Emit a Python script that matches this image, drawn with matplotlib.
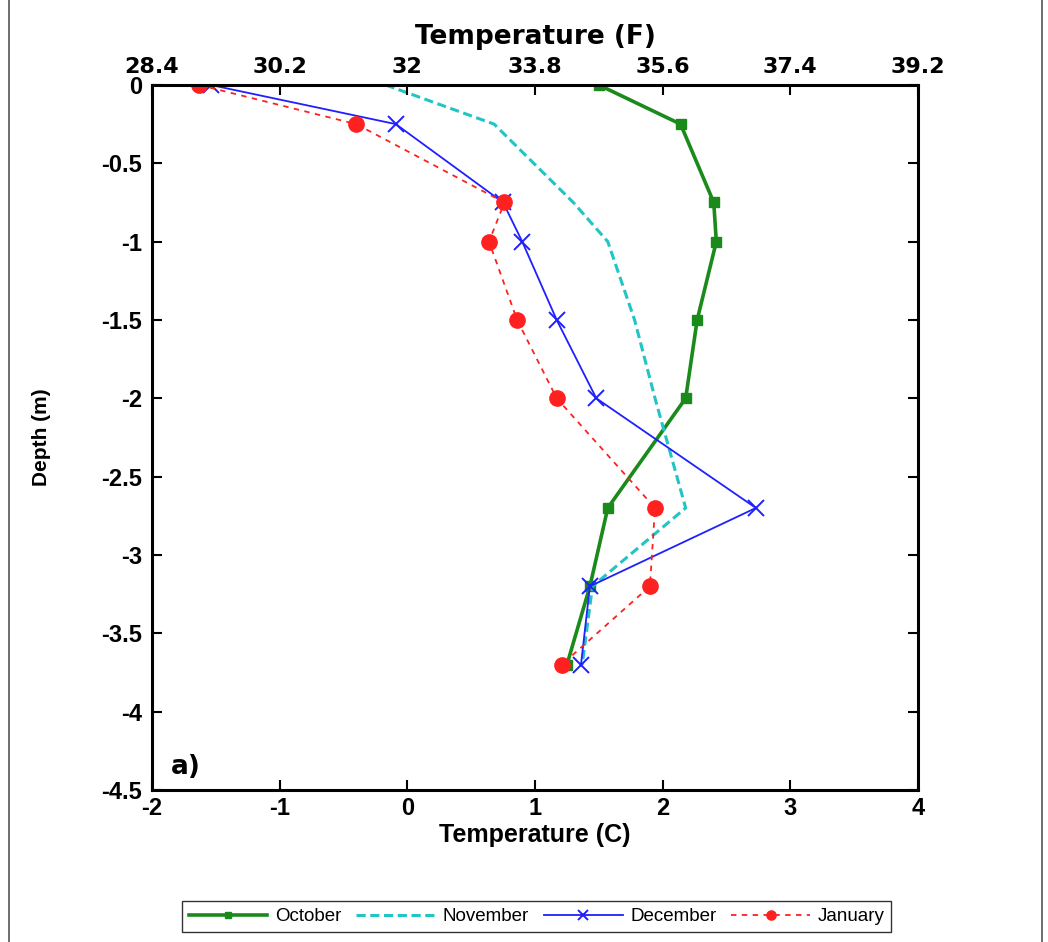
import numpy as np
import matplotlib
matplotlib.use('Agg')
import matplotlib.pyplot as plt
from matplotlib.patches import Rectangle

plt.rcParams['font.family'] = ['Liberation Sans', 'DejaVu Sans']

depth = [0, -0.25, -0.75, -1.0, -1.5, -2.0, -2.7, -3.2, -3.7]
october = [1.50, 2.14, 2.40, 2.42, 2.27, 2.18, 1.57, 1.43, 1.25]
november = [-0.17, 0.68, 1.30, 1.57, 1.78, 1.94, 2.18, 1.45, 1.37]
december = [-1.54, -0.09, 0.75, 0.90, 1.17, 1.48, 2.73, 1.43, 1.36]
january = [-1.63, -0.40, 0.76, 0.64, 0.86, 1.17, 1.94, 1.90, 1.21]

xticks_c = [-2, -1, 0, 1, 2, 3, 4]
xticks_f = ['28.4', '30.2', '32', '33.8', '35.6', '37.4', '39.2']
yticks = [0, -0.5, -1, -1.5, -2, -2.5, -3, -3.5, -4, -4.5]

fig = plt.figure(figsize=(10.48, 9.42), dpi=100)
ax = fig.add_axes([0.145, 0.1614, 0.731, 0.7484])

ax.plot(october, depth, color='#1a8a1a', lw=2.6, marker='s', ms=7, label='October')
ax.plot(november, depth, color='#22c4c4', lw=2.2, ls=(0, (3, 1.5)), label='November')
ax.plot(december, depth, color='#1f1fff', lw=1.3, marker='x', ms=11, mew=1.4, label='December')
ax.plot(january, depth, color='#ff2020', lw=1.3, ls=(0, (3, 3)), marker='o', ms=11, label='January')

ax.set_xlim(-2, 4)
ax.set_ylim(-4.5, 0)
ax.set_xticks(xticks_c)
ax.set_xticklabels([str(t) for t in xticks_c], fontweight='bold')
ax.set_yticks(yticks)
ax.set_yticklabels([('%g' % t) for t in yticks], fontweight='bold')
ax.tick_params(direction='in', length=7, width=1.5, labelsize=17, right=True)
ax.tick_params(axis='y', pad=7)
ax.tick_params(axis='x', pad=5)
for s in ax.spines.values():
    s.set_linewidth(2.2)

ax.set_xlabel('Temperature (C)', fontsize=18, fontweight='bold', labelpad=2)
ax.set_ylabel('Depth (m)', fontsize=15, fontweight='bold')
ax.yaxis.set_label_coords(-0.132, 0.5)

ax2 = ax.twiny()
ax2.set_xlim(-2, 4)
ax2.set_xticks(xticks_c)
ax2.set_xticklabels(xticks_f, fontfamily='DejaVu Sans', fontweight='bold')
ax2.tick_params(direction='in', length=7, width=1.5, labelsize=16, pad=6)
ax2.set_xlabel('Temperature (F)', fontsize=19, fontfamily='DejaVu Sans',
               fontweight='bold', labelpad=9)

ax.text(0.025, 0.022, 'a)', transform=ax.transAxes, fontsize=19, fontweight='bold',
        fontfamily='DejaVu Sans')

fig.legend(loc='center', bbox_to_anchor=(0.512, 0.027), ncol=4, fontsize=13.5,
           frameon=True, fancybox=False, edgecolor='black', handlelength=4.2,
           columnspacing=0.8, handletextpad=0.4, borderpad=0.35, markerscale=0.6)

fig.patches.append(Rectangle((0.009, -0.01), 0.985, 1.02, transform=fig.transFigure,
                             fill=False, edgecolor='#555555', lw=1.2))

fig.savefig('out.png', dpi=100)
